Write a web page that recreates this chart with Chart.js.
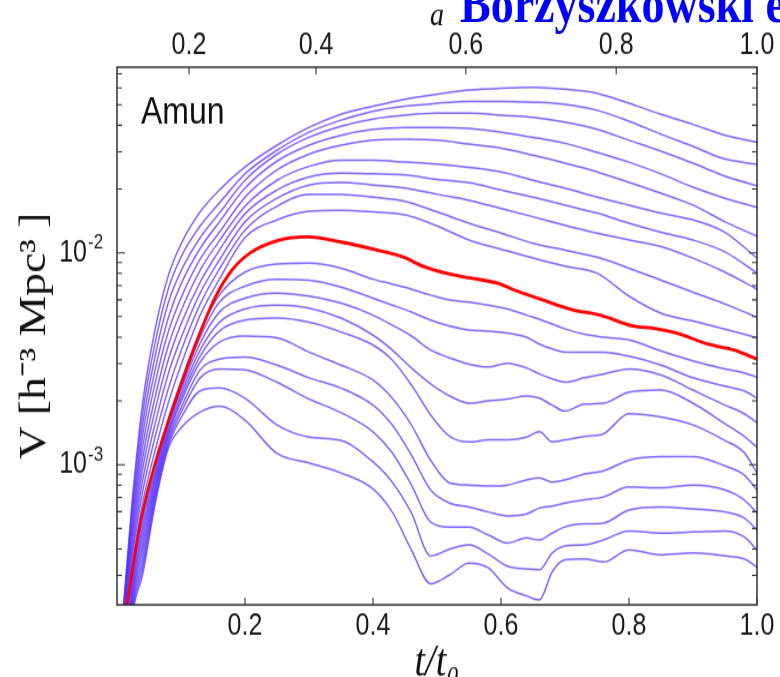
<!DOCTYPE html>
<html><head><meta charset="utf-8">
<script src="https://cdn.jsdelivr.net/npm/chart.js@4.4.1/dist/chart.umd.min.js"></script>
<style>
html,body{margin:0;padding:0;background:#fff;overflow:hidden;width:780px;height:677px;}
#wrap{position:relative;width:780px;height:677px;overflow:hidden;background:#fff;}
#c{position:absolute;left:0;top:0;}
#hdr{position:absolute;left:460px;top:-24px;font:bold 46px 'Liberation Serif','Times New Roman',serif;color:#0000ff;white-space:nowrap;line-height:46px;transform:scaleY(1.2);transform-origin:0 0;}
</style></head>
<body><div id="wrap"><canvas id="c" width="780" height="580" style="width:780px;height:696px"></canvas><div id="hdr">Borzyszkowski et al.</div></div>
<script>
// ---- data: t/t0 grids and volumes V [h^-3 Mpc^3] ----
const tUpper = [0.007,0.015,0.025,0.04,0.06,0.08,0.1,0.13,0.16,0.2,0.25,0.3,0.35,0.4,0.45,0.5,0.55,0.6,0.65,0.7,0.75,0.8,0.85,0.9,0.95,1.0];
const upper1 = [1.66e-4,3.26e-4,7.44e-4,1.95e-3,4.42e-3,7.77e-3,0.0110,0.0156,0.0198,0.0254,0.0322,0.0391,0.0451,0.0492,0.0531,0.0561,0.0586,0.0599,0.0605,0.0592,0.0567,0.0508,0.0451,0.0404,0.0359,0.0333];
const upper2 = [1.64e-4,3.12e-4,6.86e-4,1.74e-3,3.81e-3,6.74e-3,9.54e-3,0.0134,0.0172,0.0236,0.0305,0.0371,0.0423,0.0466,0.0492,0.0508,0.0519,0.0519,0.0514,0.0502,0.0471,0.0418,0.0363,0.0318,0.0277,0.0262];
const upper3 = [1.62e-4,2.99e-4,6.31e-4,1.54e-3,3.29e-3,5.79e-3,8.20e-3,0.0118,0.0154,0.0220,0.0292,0.0351,0.0396,0.0428,0.0446,0.0456,0.0456,0.0446,0.0436,0.0414,0.0383,0.0340,0.0302,0.0265,0.0230,0.0207];
const upper4 = [1.61e-4,2.86e-4,5.82e-4,1.37e-3,2.84e-3,4.91e-3,7.12e-3,0.0105,0.0140,0.0202,0.0271,0.0322,0.0359,0.0383,0.0391,0.0391,0.0387,0.0371,0.0351,0.0329,0.0298,0.0268,0.0236,0.0204,0.0181,0.0164];
const upper5 = [1.59e-4,2.74e-4,5.36e-4,1.21e-3,2.46e-3,4.23e-3,6.12e-3,9.34e-3,0.0125,0.0183,0.0246,0.0292,0.0322,0.0340,0.0344,0.0340,0.0326,0.0312,0.0289,0.0265,0.0241,0.0215,0.0191,0.0168,0.0140,0.0120];
const upper6 = [1.57e-4,2.62e-4,4.95e-4,1.07e-3,2.11e-3,3.63e-3,5.31e-3,8.29e-3,0.0114,0.0166,0.0220,0.0256,0.0274,0.0274,0.0268,0.0262,0.0253,0.0241,0.0220,0.0202,0.0183,0.0168,0.0154,0.0143,0.0125,0.00944];
const upper7 = [1.56e-4,2.51e-4,4.56e-4,9.49e-4,1.83e-3,3.12e-3,4.61e-3,7.27e-3,0.0103,0.0153,0.0198,0.0228,0.0238,0.0236,0.0233,0.0222,0.0214,0.0198,0.0183,0.0168,0.0154,0.0138,0.0125,0.0115,0.0101,0.00802];
const upper8 = [1.54e-4,2.40e-4,4.20e-4,8.38e-4,1.58e-3,2.68e-3,3.96e-3,6.46e-3,9.24e-3,0.0140,0.0181,0.0209,0.0215,0.0209,0.0202,0.0189,0.0177,0.0162,0.0148,0.0135,0.0124,0.0115,0.0107,0.00944,0.00811,0.00674];
const upper9 = [1.52e-4,2.30e-4,3.88e-4,7.44e-4,1.37e-3,2.27e-3,3.44e-3,5.73e-3,8.38e-3,0.0128,0.0166,0.0189,0.0189,0.0183,0.0175,0.0156,0.0138,0.0124,0.0111,0.0103,0.00954,0.00847,0.00743,0.00652,0.00573,0.00497];
const upper10 = [1.50e-4,2.20e-4,3.57e-4,6.59e-4,1.18e-3,1.95e-3,2.95e-3,5.08e-3,7.51e-3,0.0118,0.0143,0.0157,0.0159,0.0156,0.0151,0.0134,0.0115,0.0104,0.00944,0.00865,0.00802,0.00625,0.00519,0.00476,0.00437,0.00397];

const redT = [0.007,0.0156,0.025,0.0359,0.0484,0.0625,0.0797,0.1,0.1266,0.153,0.1797,0.2078,0.25,0.297,0.353,0.406,0.447,0.478,0.520,0.552,0.594,0.625,0.666,0.713,0.755,0.806,0.839,0.875,0.923,0.964,1.0];
const redV = [1.49e-4,2.18e-4,3.32e-4,5.19e-4,7.60e-4,1.09e-3,1.59e-3,2.38e-3,3.96e-3,6.12e-3,8.29e-3,9.97e-3,0.0114,0.0119,0.0112,0.0103,0.00955,0.00865,0.00794,0.0076,0.0072,0.0066,0.00598,0.00537,0.00508,0.00451,0.0044,0.00418,0.00371,0.00348,0.00315];

const tLower = [0.007,0.015,0.025,0.04,0.06,0.08,0.1,0.13,0.16,0.2,0.25,0.3,0.35,0.4,0.43,0.46,0.49,0.52,0.55,0.58,0.61,0.64,0.66,0.68,0.7,0.73,0.76,0.8,0.85,0.9,0.95,0.98,1.0];
const lower1 = [1.37e-4,1.96e-4,3.14e-4,5.48e-4,9.54e-4,1.62e-3,2.48e-3,4.27e-3,6.32e-3,8.11e-3,8.85e-3,8.94e-3,8.47e-3,7.51e-3,7.12e-3,6.74e-3,6.32e-3,5.98e-3,5.85e-3,5.67e-3,5.43e-3,5.08e-3,4.86e-3,4.61e-3,4.37e-3,4.13e-3,4.00e-3,3.88e-3,3.44e-3,3.09e-3,2.83e-3,2.71e-3,2.59e-3];
const lower2 = [1.26e-4,1.81e-4,2.99e-4,5.13e-4,9.19e-4,1.56e-3,2.35e-3,4.00e-3,5.85e-3,6.96e-3,7.51e-3,7.43e-3,6.89e-3,6.11e-3,5.67e-3,5.25e-3,4.81e-3,4.51e-3,4.32e-3,4.27e-3,4.18e-3,4.00e-3,3.71e-3,3.52e-3,3.40e-3,3.40e-3,3.40e-3,3.25e-3,2.95e-3,2.57e-3,2.35e-3,2.23e-3,2.06e-3];
const lower3 = [1.15e-4,1.66e-4,2.84e-4,4.81e-4,8.79e-4,1.52e-3,2.25e-3,3.75e-3,5.25e-3,6.11e-3,6.46e-3,6.25e-3,5.79e-3,5.08e-3,4.56e-3,4.05e-3,3.48e-3,3.19e-3,2.98e-3,2.89e-3,3.01e-3,2.86e-3,2.68e-3,2.54e-3,2.45e-3,2.57e-3,2.68e-3,2.83e-3,2.65e-3,2.25e-3,1.91e-3,1.74e-3,1.58e-3];
const lower4 = [1.06e-4,1.54e-4,2.71e-4,4.51e-4,8.47e-4,1.46e-3,2.15e-3,3.48e-3,4.70e-3,5.43e-3,5.67e-3,5.49e-3,4.92e-3,4.09e-3,3.48e-3,2.86e-3,2.41e-3,2.11e-3,1.95e-3,2.00e-3,2.04e-3,2.11e-3,2.06e-3,1.91e-3,1.79e-3,1.93e-3,1.95e-3,2.20e-3,2.25e-3,1.95e-3,1.56e-3,1.36e-3,1.21e-3];
const lower5 = [9.7e-5,1.43e-4,2.57e-4,4.20e-4,8.11e-4,1.41e-3,2.06e-3,3.25e-3,4.27e-3,4.81e-3,4.92e-3,4.70e-3,4.23e-3,3.67e-3,3.12e-3,2.38e-3,1.72e-3,1.36e-3,1.28e-3,1.31e-3,1.31e-3,1.35e-3,1.43e-3,1.28e-3,1.31e-3,1.36e-3,1.40e-3,1.74e-3,1.68e-3,1.54e-3,1.30e-3,1.14e-3,9.14e-4];
const lower6 = [8.9e-5,1.32e-4,2.46e-4,3.94e-4,7.77e-4,1.37e-3,1.98e-3,3.05e-3,3.79e-3,4.05e-3,3.97e-3,3.40e-3,2.95e-3,2.51e-3,2.06e-3,1.54e-3,1.05e-3,8.20e-4,8.02e-4,7.93e-4,8.02e-4,8.47e-4,8.66e-4,8.28e-4,8.47e-4,9.04e-4,9.34e-4,1.05e-3,1.09e-3,1.09e-3,9.86e-4,8.94e-4,7.60e-4];
const lower7 = [8.2e-5,1.23e-4,2.34e-4,3.67e-4,7.48e-4,1.32e-3,1.85e-3,2.80e-3,3.15e-3,3.22e-3,2.95e-3,2.57e-3,2.30e-3,1.91e-3,1.54e-3,1.11e-3,7.60e-4,6.59e-4,6.31e-4,5.98e-4,5.73e-4,5.85e-4,6.24e-4,6.38e-4,6.59e-4,6.82e-4,7.04e-4,7.84e-4,7.77e-4,8.02e-4,7.60e-4,6.82e-4,5.92e-4];
const lower8 = [7.5e-5,1.13e-4,2.23e-4,3.43e-4,7.20e-4,1.27e-3,1.76e-3,2.57e-3,2.83e-3,2.80e-3,2.45e-3,2.04e-3,1.76e-3,1.43e-3,1.14e-3,8.02e-4,5.36e-4,5.08e-4,5.08e-4,4.66e-4,4.27e-4,4.51e-4,4.41e-4,4.76e-4,5.08e-4,5.25e-4,5.30e-4,6.11e-4,6.31e-4,6.18e-4,5.98e-4,5.60e-4,4.92e-4];
const lower9 = [6.9e-5,1.05e-4,2.12e-4,3.22e-4,6.89e-4,1.23e-3,1.66e-3,2.23e-3,2.30e-3,2.06e-3,1.54e-3,1.35e-3,1.30e-3,1.03e-3,8.28e-4,5.92e-4,3.71e-4,4.00e-4,4.18e-4,3.79e-4,3.32e-4,3.22e-4,3.19e-4,3.83e-4,4.13e-4,4.18e-4,4.41e-4,4.87e-4,4.76e-4,4.81e-4,4.87e-4,4.56e-4,3.96e-4];
const lower10 = [6.3e-5,9.7e-5,2.02e-4,3.02e-4,6.60e-4,1.19e-3,1.49e-3,1.77e-3,1.89e-3,1.62e-3,1.13e-3,1.02e-3,9.14e-4,7.68e-4,5.98e-4,3.96e-4,2.74e-4,3.02e-4,3.43e-4,3.26e-4,2.62e-4,2.40e-4,2.30e-4,3.12e-4,3.55e-4,3.59e-4,3.47e-4,3.96e-4,3.75e-4,3.83e-4,3.71e-4,3.59e-4,3.29e-4];

// ---- ticks / labels ----
const xTickValues = [0.2,0.4,0.6,0.8,1.0];
const xTickLabels = ['0.2','0.4','0.6','0.8','1.0'];
const aTickPos = [0.1125,0.311,0.545,0.78,1.0];
const aTickLabels = ['0.2','0.4','0.6','0.8','1.0'];
const yTickValues = [1e-3,1e-2];
const yTickBase = ['10','10'];
const yTickExp = ['-3','-2'];
const yMin = 2.18e-4, yMax = 0.0752;
const panelLabel = 'Amun';

const SANS = "'Liberation Sans', Arial, Helvetica, sans-serif";
const SERIF = "'Liberation Serif', 'Times New Roman', serif";
const PURPLE = 'rgba(90,50,255,0.75)';

function series(ts, vs){ return ts.map((t,i)=>({x:t,y:vs[i]})); }
const upperAll = [upper1,upper2,upper3,upper4,upper5,upper6,upper7,upper8,upper9,upper10];
const lowerAll = [lower1,lower2,lower3,lower4,lower5,lower6,lower7,lower8,lower9,lower10];
const lineStyle = {pointRadius: 0, fill: false, cubicInterpolationMode: 'monotone'};
const datasets = [];
upperAll.forEach(v => datasets.push(Object.assign({data: series(tUpper, v), borderColor: PURPLE, borderWidth: 1.5, order: 1}, lineStyle)));
lowerAll.forEach(v => datasets.push(Object.assign({data: series(tLower, v), borderColor: PURPLE, borderWidth: 1.5, order: 1}, lineStyle)));
datasets.push(Object.assign({data: series(redT, redV), borderColor: '#ff0000', borderWidth: 2.8, order: 0}, lineStyle));

const framePlugin = {
  id: 'frame',
  afterDatasetsDraw(chart) {
    const {ctx, chartArea: {left, right, top, bottom}, scales} = chart;
    ctx.save();
    ctx.strokeStyle = '#111'; ctx.lineWidth = 1.3;
    ctx.strokeRect(left, top, right - left, bottom - top);
    ctx.strokeStyle = '#333'; ctx.lineWidth = 1.1;
    ctx.beginPath();
    xTickValues.forEach(v => { const p = scales.x.getPixelForValue(v); ctx.moveTo(p, bottom); ctx.lineTo(p, bottom - 6); });
    aTickPos.forEach(v => { const p = scales.x2.getPixelForValue(v); ctx.moveTo(p, top); ctx.lineTo(p, top + 6); });
    [1e-4, 1e-3, 1e-2].forEach(d => {
      for (let m = 1; m <= 9; m++) {
        const v = m * d;
        if (v < yMin || v > yMax) continue;
        const p = scales.y.getPixelForValue(v);
        const len = m === 1 ? 8 : 5;
        ctx.moveTo(left, p); ctx.lineTo(left + len, p);
        ctx.moveTo(right, p); ctx.lineTo(right - len, p);
      }
    });
    ctx.stroke();
    ctx.fillStyle = '#1a1a1a'; ctx.textBaseline = 'middle';
    yTickValues.forEach((v, i) => {
      const p = scales.y.getPixelForValue(v);
      ctx.font = '25px ' + SANS; ctx.textAlign = 'right';
      ctx.fillText(yTickBase[i], 87, p);
      ctx.font = '17px ' + SANS; ctx.textAlign = 'left';
      ctx.fillText(yTickExp[i], 88, p - 8);
    });
    ctx.font = '32px ' + SANS; ctx.textAlign = 'left'; ctx.textBaseline = 'alphabetic'; ctx.fillStyle = '#111';
    ctx.fillText(panelLabel, 141, 102.5);
    ctx.restore();
  }
};

new Chart(document.getElementById('c'), {
  type: 'line',
  data: { datasets },
  options: {
    responsive: false, animation: false, devicePixelRatio: 1, events: [],
    layout: { padding: { left: 0, right: 23, top: 0, bottom: 0 } },
    plugins: { legend: { display: false }, tooltip: { enabled: false } },
    scales: {
      x: {
        type: 'linear', position: 'bottom', min: 0, max: 1,
        afterBuildTicks: s => { s.ticks = xTickValues.map(v => ({value: v})); },
        afterFit: s => { s.height = 76; },
        grid: { display: false, drawTicks: false, tickLength: 0 }, border: { display: false },
        ticks: { autoSkip: false, maxRotation: 0, padding: 3, color: '#1a1a1a', font: { family: SANS, size: 25 }, callback: (v, i) => xTickLabels[i] },
        title: { display: true, text: 't/t\u2080', color: '#111', font: { family: SERIF, style: 'italic', size: 38, lineHeight: 1 }, padding: { top: 0, bottom: 7.9 } }
      },
      x2: {
        type: 'linear', position: 'top', min: 0, max: 1,
        afterBuildTicks: s => { s.ticks = aTickPos.map(v => ({value: v})); },
        afterFit: s => { s.height = 56; },
        grid: { display: false, drawTicks: false, tickLength: 0 }, border: { display: false },
        ticks: { autoSkip: false, maxRotation: 0, padding: 3, color: '#1a1a1a', font: { family: SANS, size: 25 }, callback: (v, i) => aTickLabels[i] },
        title: { display: true, text: 'a', color: '#111', font: { family: SERIF, style: 'italic', size: 28, lineHeight: 1 }, padding: { top: 0, bottom: 0 } }
      },
      y: {
        type: 'logarithmic', position: 'left', min: yMin, max: yMax,
        afterFit: s => { s.width = 117; },
        grid: { display: false, drawTicks: false, tickLength: 0 }, border: { display: false },
        ticks: { display: false },
        title: { display: true, text: 'V [h\u207B\u00B3 Mpc\u00B3 ]', color: '#111', font: { family: SERIF, size: 38, lineHeight: 1 }, padding: { top: 16, bottom: 0 } }
      }
    }
  },
  plugins: [framePlugin]
});
</script>
</body></html>
